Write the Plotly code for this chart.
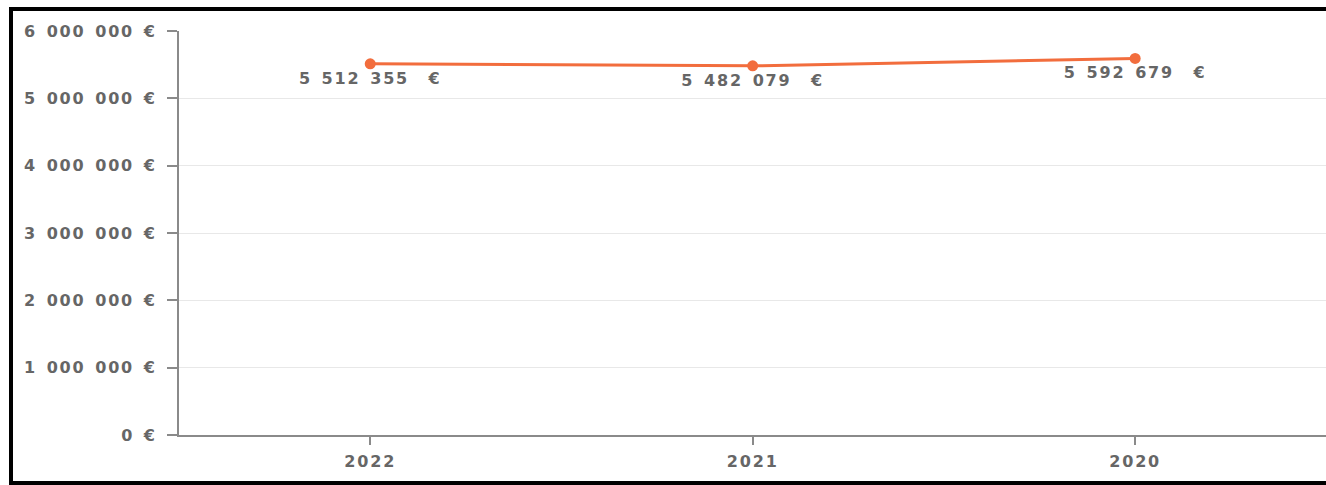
"""Yearly amount line chart."""

import plotly.graph_objects as go

# data
years = ["2022", "2021", "2020"]
amounts = [5512355, 5482079, 5592679]
y_tick_values = [0, 1000000, 2000000, 3000000, 4000000, 5000000, 6000000]

SP = "\u2002"  # wide space used as thousands separator


def euro(v, gap=1):
    return f"{v:,}".replace(",", SP) + SP * gap + "€"


y_tick_text = [euro(v) for v in y_tick_values]
point_labels = [euro(v, gap=2) for v in amounts]

# layout constants (pixels)
W, H = 1326, 485
ML, MR, MT, MB = 179, 0, 31, 50
PW, PH = W - ML - MR, H - MT - MB


def px_x(x):
    return (x - ML) / PW


def px_y(y):
    return (H - MB - y) / PH


GRAY = "#666666"
AXIS = "#8a8a8a"
ORANGE = "#f26d3d"
FONT = dict(family="DejaVu Sans", size=16, color=GRAY, weight="bold")

fig = go.Figure(
    go.Scatter(
        x=years,
        y=amounts,
        mode="lines+markers+text",
        line=dict(color=ORANGE, width=3),
        marker=dict(color=ORANGE, size=11),
        text=point_labels,
        textposition="bottom center",
        textfont=FONT,
        hoverinfo="skip",
        cliponaxis=False,
    )
)

fig.update_layout(
    width=W,
    height=H,
    margin=dict(l=ML, r=MR, t=MT, b=MB, autoexpand=False),
    paper_bgcolor="white",
    plot_bgcolor="white",
    showlegend=False,
    font=FONT,
)
fig.update_xaxes(
    type="category",
    range=[-0.5, (W - ML) / (PW / 3) - 0.5 - 0.001],
    showline=True,
    linecolor=AXIS,
    linewidth=2,
    ticks="outside",
    ticklen=8,
    tickcolor=AXIS,
    tickwidth=2,
    showgrid=False,
    tickfont=FONT,
    ticklabelstandoff=3,
    fixedrange=True,
)
fig.update_yaxes(
    range=[0, 6000000],
    tickvals=y_tick_values,
    ticktext=y_tick_text,
    showline=True,
    linecolor=AXIS,
    linewidth=2,
    ticks="outside",
    ticklen=10,
    tickcolor=AXIS,
    tickwidth=2,
    showgrid=True,
    gridcolor="#e8e8e8",
    gridwidth=1,
    zeroline=False,
    tickfont=FONT,
    ticklabelstandoff=7,
    fixedrange=True,
)

# black frame (top, left, bottom), drawn as one open path
frame_path = (
    f"M {px_x(W + 2)},{px_y(9)} L {px_x(11)},{px_y(9)} "
    f"L {px_x(11)},{px_y(483)} L {px_x(W + 2)},{px_y(483)}"
)
fig.add_shape(
    type="path",
    path=frame_path,
    xref="paper",
    yref="paper",
    line=dict(color="black", width=4),
    layer="above",
)

page_css = (
    "var s=document.createElement('style');"
    "s.textContent='html,body{margin:0;padding:0;background:white}"
    ".main-svg text{letter-spacing:1.8px}';"
    "document.head.appendChild(s);"
)

fig.write_html("out.html", config={"displayModeBar": False}, post_script=page_css)
